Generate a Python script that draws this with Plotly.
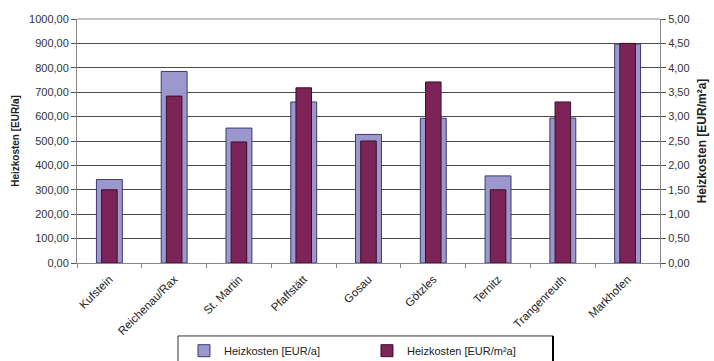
import plotly.graph_objects as go

categories = ["Kufstein", "Reichenau/Rax", "St. Martin", "Pfaffstätt", "Gosau",
              "Götzles", "Ternitz", "Trangenreuth", "Markhofen"]
kosten_jahr = [342, 785, 553, 660, 527, 593, 357, 594, 897]
kosten_m2 = [1.50, 3.42, 2.48, 3.59, 2.50, 3.71, 1.50, 3.30, 4.50]

name1 = "Heizkosten [EUR/a]"
name2 = "Heizkosten [EUR/m²a]"

fig = go.Figure()
fig.add_trace(go.Bar(
    x=categories, y=kosten_jahr, name=name1, width=0.40,
    marker=dict(color="#9C98CE", line=dict(color="#3C3A6A", width=1)),
    yaxis="y",
))
fig.add_trace(go.Bar(
    x=categories, y=kosten_m2, name=name2, width=0.24,
    marker=dict(color="#7C2358", line=dict(color="#3A1028", width=1)),
    yaxis="y2",
))

font = "Liberation Sans, Arial, sans-serif"
txt = "#222222"
fig.update_layout(
    width=714, height=361,
    margin=dict(l=77, r=54, t=19, b=98, autoexpand=False),
    paper_bgcolor="white", plot_bgcolor="white",
    barmode="overlay",
    separators=",.",
    font=dict(family=font, size=10, color=txt),
    showlegend=True,
    legend=dict(
        orientation="h", x=0.1835, xanchor="left", y=-0.30, yanchor="top",
        borderwidth=0, bgcolor="rgba(0,0,0,0)",
        entrywidth=138, font=dict(size=11, color=txt),
        traceorder="normal",
    ),
    xaxis=dict(
        tickangle=-45, showgrid=False, showline=True, linecolor="#888888",
        ticks="outside", tickson="boundaries", ticklen=4, tickcolor="#888888",
        tickfont=dict(size=11.5, color=txt), ticklabelstandoff=4,
    ),
    yaxis=dict(
        range=[0, 1000], dtick=100, tickformat=".2f",
        showgrid=True, gridcolor="#4a4a4a", gridwidth=1,
        showline=True, linecolor="#888888",
        ticks="outside", ticklen=5, tickcolor="#555555",
        tickfont=dict(size=11, color="#333333"),
        title=dict(text="<b>Heizkosten [EUR/a]</b>", font=dict(size=10, color=txt), standoff=7),
        zeroline=False,
    ),
    yaxis2=dict(
        range=[0, 5], dtick=0.5, tickformat=".2f", overlaying="y", side="right",
        showgrid=False, showline=True, linecolor="#888888",
        ticks="outside", ticklen=5, tickcolor="#555555",
        tickfont=dict(size=11, color="#333333"),
        title=dict(text="<b>Heizkosten [EUR/m²a]</b>", font=dict(size=12, color=txt), standoff=8),
        zeroline=False,
    ),
    shapes=[
        # lighter top gridline as in the reference
        dict(type="line", xref="paper", yref="paper", x0=0, x1=1, y0=1, y1=1,
             line=dict(color="#c4c4c4", width=2), layer="above"),
        # legend frame
        dict(type="rect", xref="paper", yref="paper", x0=0.1732, x1=0.8165,
             y0=-0.299, y1=-0.45, line=dict(color="#333333", width=1),
             fillcolor="rgba(0,0,0,0)", layer="below"),
        dict(type="line", xref="paper", yref="paper", x0=0.8165, x1=0.8165,
             y0=-0.299, y1=-0.45, line=dict(color="#000000", width=2)),
    ],
)
fig.write_html("out.html")
